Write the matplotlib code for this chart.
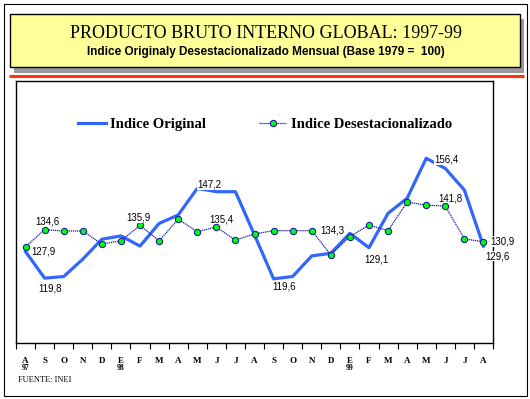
import matplotlib.pyplot as plt
from matplotlib.patches import Rectangle
from matplotlib.font_manager import FontProperties
import matplotlib.transforms as mtransforms

# Data
months = ['A', 'S', 'O', 'N', 'D', 'E', 'F', 'M', 'A', 'M', 'J', 'J', 'A',
          'S', 'O', 'N', 'D', 'E', 'F', 'M', 'A', 'M', 'J', 'J', 'A']
year_pos = [0, 5, 17]
year_labels = ['97', '98', '99']

original = [127.9, 119.8, 120.3, 125.6, 131.7, 132.7, 129.6, 136.5, 139.1,
            147.2, 146.2, 146.2, 133.0, 119.6, 120.3, 126.6, 127.4, 133.5,
            129.1, 139.6, 144.2, 156.4, 153.3, 146.7, 129.6]
desest = [129.4, 134.6, 134.2, 134.2, 130.2, 131.2, 135.9, 131.2, 137.8,
          134.0, 135.4, 131.4, 133.3, 134.3, 134.3, 134.3, 126.9, 132.5,
          136.0, 134.3, 143.0, 142.1, 141.8, 131.8, 130.9]

# which points get a value label, and where (pixel offsets)
orig_lab_idx = [0, 1, 9, 13, 18, 21, 24]
orig_lab_off = [(18, 0), (5, -10), (12, 4), (11, -8), (7, -12), (20, -1), (14, -10)]
des_lab_idx = [1, 6, 10, 15, 22, 24]
des_lab_off = [(3, 8), (-2, 8), (5, 8), (21, 0), (5, 8), (19, 0)]

serif = 'Liberation Serif'
sans = 'Liberation Sans'

fig = plt.figure(figsize=(5.3, 3.99), dpi=100)

# page decorations in pixel coordinates
bg = fig.add_axes([0, 0, 1, 1])
bg.set_xlim(0, 530)
bg.set_ylim(399, 0)
bg.axis('off')
bg.add_patch(Rectangle((3.5, 4), 523.5, 392, fill=False, edgecolor='black', lw=0.8))
bg.add_patch(Rectangle((14, 19), 510, 54, facecolor='#999999', edgecolor='none'))
bg.add_patch(Rectangle((9.5, 14), 510.5, 53, facecolor='#FFFF99', edgecolor='black', lw=1))
bg.plot([9, 524], [75.5, 75.5], color='#FF3300', lw=2.2, solid_capstyle='butt')
bg.text(266, 34, 'PRODUCTO BRUTO INTERNO GLOBAL: 1997-99', family=serif,
        fontsize=13, ha='center', va='center')
bg.text(266, 52, 'Indice Originaly Desestacionalizado Mensual (Base 1979 =  100)',
        family=['Liberation Sans Narrow', sans], weight='bold', fontsize=8.5,
        ha='center', va='center')
bg.text(18, 380, 'FUENTE: INEI', family=serif, fontsize=6, ha='left', va='center')

# chart
ax = fig.add_axes([16 / 530, (399 - 343) / 399, 477 / 530, 262 / 399])
x = list(range(len(months)))
ax.plot(x, original, color='#3366FF', lw=2.3, label='Indice Original', zorder=3)
ax.plot(x, desest, color='#1A1AB0', lw=0.9, ls=(0, (1, 0.6)), marker='o',
        markersize=4.5, markerfacecolor='#00FF00', markeredgecolor='#1A1AB0',
        markeredgewidth=0.8, label='Indice Desestacionalizado', zorder=4)

ax.set_xlim(-0.5, len(months) - 0.5)
ax.set_ylim(100, 180)
ax.set_yticks([])
ax.set_xticks(x)
ax.set_xticklabels(months, family=serif, weight='bold', fontsize=6.5)
ax.tick_params(axis='x', which='major', length=0, pad=10)
ax.set_xticks([i - 0.5 for i in range(len(months) + 1)], minor=True)
ax.tick_params(axis='x', which='minor', length=4, width=0.8, direction='out')
for s in ax.spines.values():
    s.set_linewidth(1.0)

trans = mtransforms.blended_transform_factory(ax.transData, ax.transAxes)
for p, t in zip(year_pos, year_labels):
    ax.text(p, -0.095, t, transform=trans, family=serif, weight='bold',
            fontsize=5.5, ha='center', va='center')


def fmt(v):
    return f'{v:.1f}'.replace('.', ',')


for i, (dx, dy) in zip(orig_lab_idx, orig_lab_off):
    ax.annotate(fmt(original[i]), (i, original[i]), xytext=(dx, dy),
                textcoords='offset pixels', ha='center', va='center',
                family=sans, fontsize=7, zorder=6,
                bbox=dict(facecolor='white', edgecolor='none', pad=0.3))
for i, (dx, dy) in zip(des_lab_idx, des_lab_off):
    ax.annotate(fmt(desest[i]), (i, desest[i]), xytext=(dx, dy),
                textcoords='offset pixels', ha='center', va='center',
                family=sans, fontsize=7, zorder=6,
                bbox=dict(facecolor='white', edgecolor='none', pad=0.3))

ax.legend(ncol=2, loc='center', bbox_to_anchor=(0.522, 0.833), frameon=False,
          prop=FontProperties(family=serif, weight='bold', size=10.5),
          handlelength=1.9, handletextpad=0.3, columnspacing=3.6)

fig.savefig('out.png', dpi=100)
